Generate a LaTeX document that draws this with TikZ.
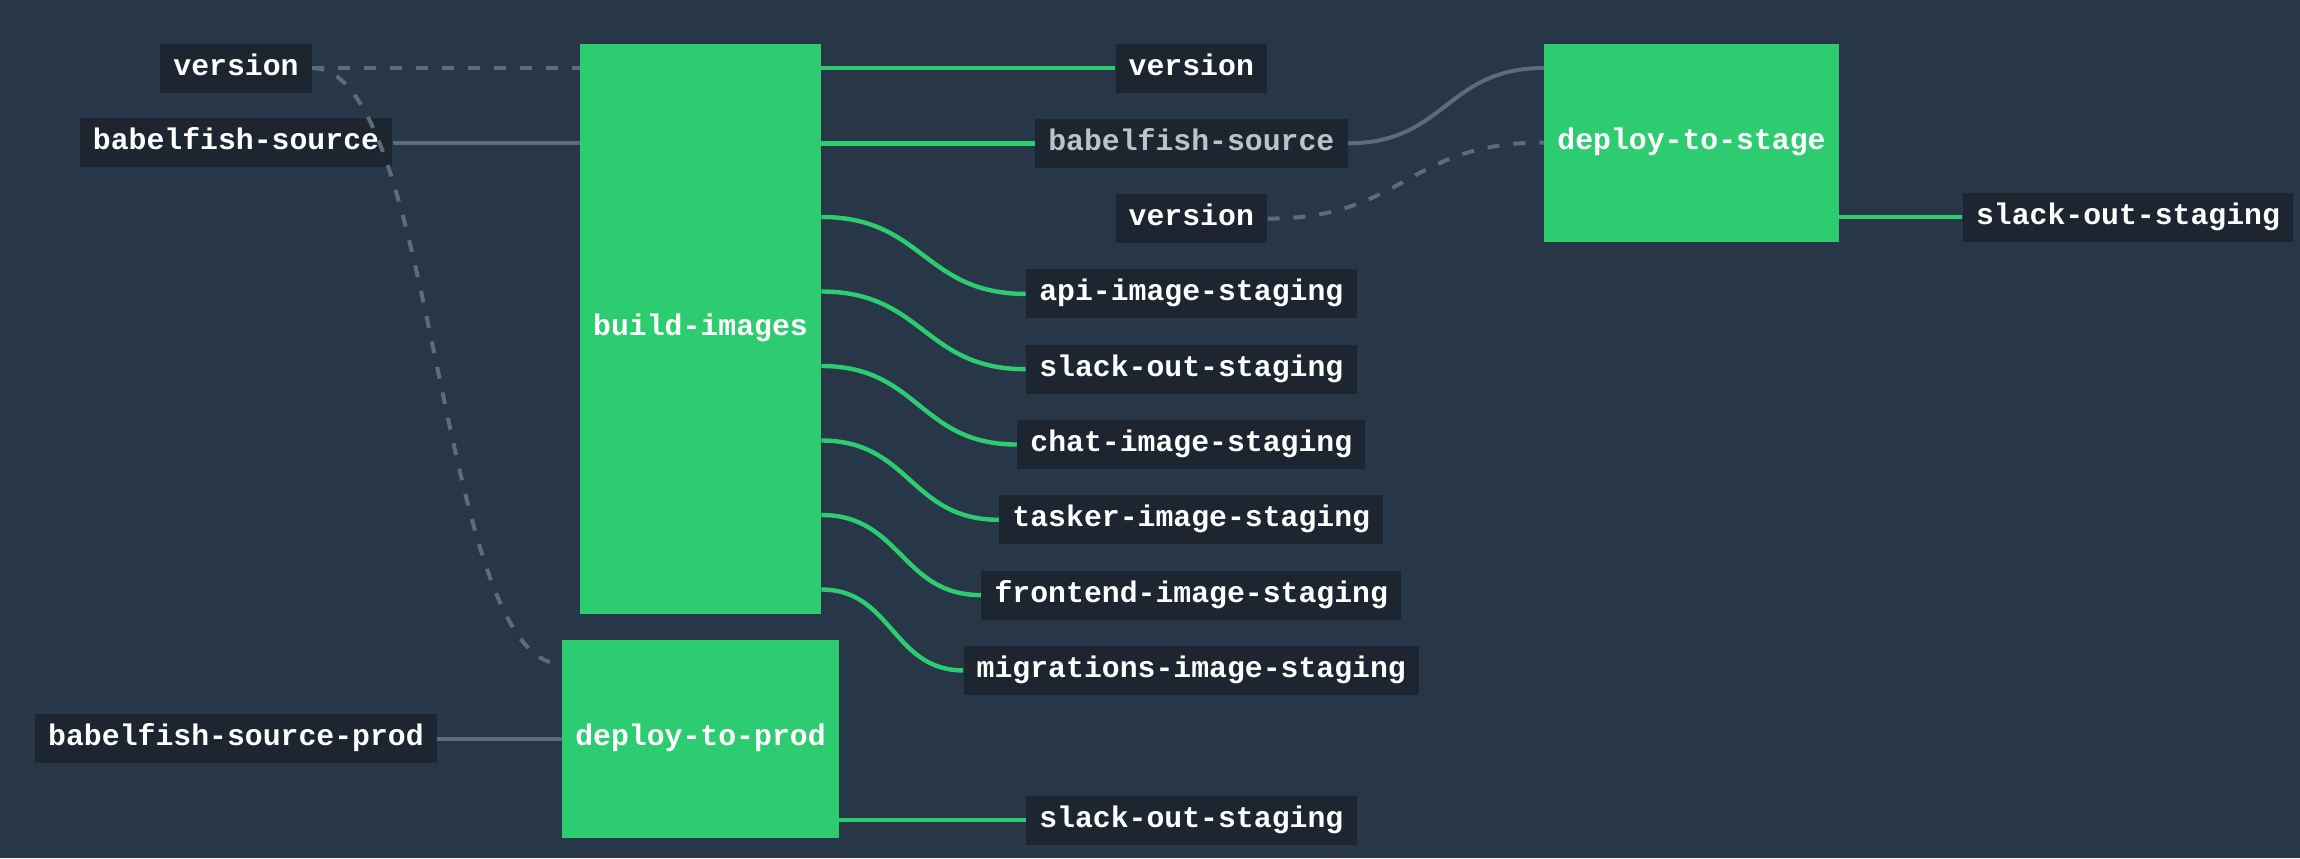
\documentclass[tikz,border=0pt]{standalone}
\usepackage{fontspec}
\setmonofont{Liberation Mono}
\usepackage{tikz}
\usetikzlibrary{positioning,calc}

\definecolor{pagebg}{HTML}{273747}
\definecolor{resbg}{HTML}{1C2530}
\definecolor{okgreen}{HTML}{2ECC71}
\definecolor{wiregray}{HTML}{5D6B7C}
\definecolor{dimtext}{HTML}{BDC3C7}

\begin{document}
\begin{tikzpicture}[
		x=0.5pt, y=-0.5pt,
		basic/.style  = {rectangle, inner xsep=6.6pt, inner ysep=0pt, text height=9pt, text depth=2pt, text=white, font=\fontsize{14.9pt}{16pt}\selectfont\ttfamily\bfseries},
		res/.style    = {basic, fill=resbg, minimum height=24.5pt},
		job/.style    = {basic, fill=okgreen},
		job 3/.style  = {job, minimum height=99pt},
		job 8/.style  = {job, minimum height=285.25pt},
		wire/.style   = {draw=wiregray, line width=2pt},
		notrig/.style = {wire, dash pattern=on 6pt off 7pt},
		pass/.style   = {draw=okgreen, line width=2.2pt},
		swoop/.style  = {to path={let \p1=(\tikztostart), \p2=(\tikztotarget) in .. controls ({(\x1+\x2)/2},\y1) and ({(\x1+\x2)/2},\y2) .. (\tikztotarget)}},
		node distance=12.75pt]
		
		\useasboundingbox[fill=pagebg] (0,0) rectangle (2300,858);
		
		% Rows of the grid
		\foreach \k in {0,...,10}
		\coordinate (row\k) at (0,68+74.5*\k);
		
		% Inputs on the left
		\node[res] (ver) at (236,68) {version};
		\node[res] (src) at (236,142.5) {babelfish-source};
		\node[res] (srcprod) at (236,738.5) {babelfish-source-prod};
		
		% Jobs
		\node[job 8] (build) at (700.5,328.75) {build-images};
		\node[job 3] (prod) at (700.5,738.5) {deploy-to-prod};
		\node[job 3] (stage) at (1691.5,142.5) {deploy-to-stage};
		
		% Middle column, relatively positioned nodes
		\node[res] (ver2) at (1191.3,68) {version};
		\node[res, text=dimtext, below=of ver2] (src2) {babelfish-source};
		\node[res, below=of src2] (ver3) {version};
		\node[res, below=of ver3] (api) {api-image-staging};
		\node[res, below=of api] (slack) {slack-out-staging};
		\node[res, below=of slack] (chat) {chat-image-staging};
		\node[res, below=of chat] (tasker) {tasker-image-staging};
		\node[res, below=of tasker] (frontend) {frontend-image-staging};
		\node[res, below=of frontend] (migr) {migrations-image-staging};
		\node[res, below=50pt of migr] (slackprod) {slack-out-staging};
		
		% Output of deploy-to-stage
		\node[res] (slackstage) at (2128,217) {slack-out-staging};
		
		% Lines into the jobs
		\draw[notrig] (ver.east) -- (build.west |- ver.east);
		\draw[wire] (src.east) -- (build.west |- src.east);
		\draw[notrig] (ver.east) to[swoop] (prod.west |- row8);
		\draw[wire] (srcprod.east) -- (prod.west |- srcprod.east);
		\draw[wire] (src2.east) to[swoop] (stage.west |- row0);
		\draw[notrig] (ver3.east) to[swoop] (stage.west |- row1);
		
		% Lines out of the jobs
		\foreach \out in {ver2,src2}
		\draw[pass] (build.east |- \out.west) -- (\out.west);
		
		\foreach \k/\out in {2/api,3/slack,4/chat,5/tasker,6/frontend,7/migr}
		\draw[pass] (build.east |- row\k) to[swoop] (\out.west);
		
		\draw[pass] (stage.east |- slackstage.west) -- (slackstage.west);
		\draw[pass] (prod.east |- slackprod.west) -- (slackprod.west);
		
	\end{tikzpicture}
\end{document}
